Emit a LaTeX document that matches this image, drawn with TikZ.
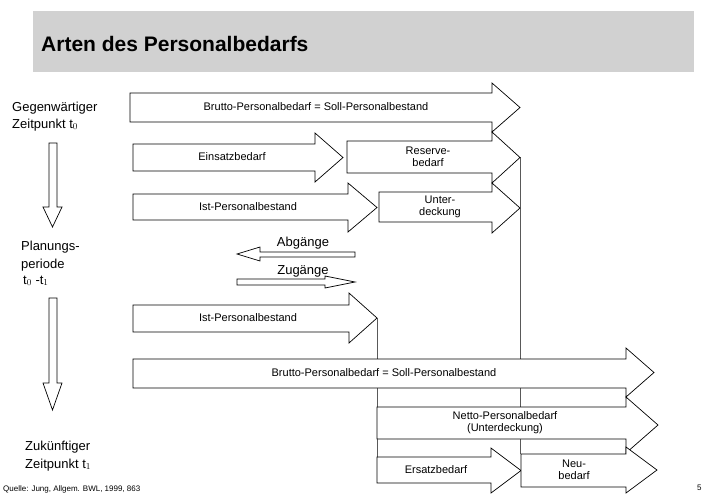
\documentclass[tikz,border=0pt]{standalone}
\usepackage{fontspec}
\setmainfont{Liberation Sans}
\begin{document}
\begin{tikzpicture}[x=1pt,y=-1pt,
  arr/.style={draw=black,fill=white,line width=0.7pt,line join=miter},
  lbl/.style={font=\fontsize{11}{12}\selectfont,align=center,inner sep=0pt},
  side/.style={font=\fontsize{13}{15}\selectfont,anchor=base west,inner sep=0pt},
  vline/.style={draw=black!65,line width=0.8pt}]
\useasboundingbox (0,0) rectangle (720,498);
% horizontal block arrow: x1, shaft end, tip x, body top, body bottom, head top, head bottom
\newcommand\harr[7]{\draw[arr] (#1,#4) -- (#2,#4) -- (#2,#6) -- (#3,{(#6+#7)/2}) -- (#2,#7) -- (#2,#5) -- (#1,#5) -- cycle;}
\newcommand\varr[7]{\draw[arr] (#4,#1) -- (#4,#2) -- (#6,#2) -- ({(#6+#7)/2},#3) -- (#7,#2) -- (#5,#2) -- (#5,#1) -- cycle;}
% title
\fill[black!18] (33,11) rectangle (694,72);
\node[anchor=base west,inner sep=0pt,font=\bfseries\fontsize{21}{24}\selectfont] (title) at (41,51) {Arten des Personalbedarfs};
% connector lines
\coordinate (c1) at (520,157);
\coordinate (c2) at (520,454);
\coordinate (d1) at (377,318);
\coordinate (d2) at (377,483);
\draw[vline] (c1) -- (c2);
\draw[vline] (d1) -- (d2);
% arrows
\harr{130}{492}{520}{93}{122}{83}{132}
\harr{133}{315}{343}{144}{171}{133}{182}
\harr{347}{492}{520}{141}{173}{132}{183}
\harr{133}{348}{377}{194}{220}{183}{232}
\harr{379}{492}{520}{192}{222}{183}{233}
\harr{355}{260}{237}{252}{257}{247}{261}
\harr{237}{325}{355}{279}{285}{276}{288}
\harr{133}{349}{377}{305}{332}{293}{343}
\harr{133}{626}{654}{359}{388}{348}{397}
\harr{377}{626}{658}{407}{439}{397}{453}
\harr{377}{491}{521}{457}{483}{448}{493}
\harr{521}{626}{657}{454}{487}{447}{493}
\varr{143}{207}{227}{49}{57}{43}{62}
\varr{298}{383}{410}{49}{57}{43}{62}
% labels
\node[lbl] (l1) at (316,107) {Brutto-Personalbedarf = Soll-Personalbestand};
\node[lbl] (l2) at (232,157) {Einsatzbedarf};
\node[lbl] (l3) at (428,157) {Reserve-\\bedarf};
\node[lbl] (l4) at (248,207) {Ist-Personalbestand};
\node[lbl] (l5) at (440,207) {Unter-\\deckung};
\node[lbl,font=\fontsize{13}{15}\selectfont] (l6) at (303,243) {Abgänge};
\node[lbl,font=\fontsize{13}{15}\selectfont] (l7) at (303,271) {Zugänge};
\node[lbl] (l8) at (248,318) {Ist-Personalbestand};
\node[lbl] (l9) at (384,373) {Brutto-Personalbedarf = Soll-Personalbestand};
\node[lbl] (l10) at (505,423) {Netto-Personalbedarf\\(Unterdeckung)};
\node[lbl] (l11) at (436,470) {Ersatzbedarf};
\node[lbl] (l12) at (574,470) {Neu-\\bedarf};
% side labels
\node[side] (s1) at (12,111) {Gegenwärtiger};
\node[side] (s2) at (12,128) {Zeitpunkt t$_0$};
\node[side] (s3) at (21,250) {Planungs-};
\node[side] (s4) at (21,268) {periode};
\node[side] (s5) at (23,284) {t$_0$ -t$_1$};
\node[side] (s6) at (25,450) {Zukünftiger};
\node[side] (s7) at (25,468) {Zeitpunkt t$_1$};
\node[anchor=base west,inner sep=0pt,font=\fontsize{8}{9}\selectfont] (q) at (3,491) {Quelle: Jung, Allgem. BWL, 1999, 863};
\node[anchor=base west,inner sep=0pt,font=\fontsize{8}{9}\selectfont] (pg) at (697,490) {5};
\end{tikzpicture}
\end{document}
